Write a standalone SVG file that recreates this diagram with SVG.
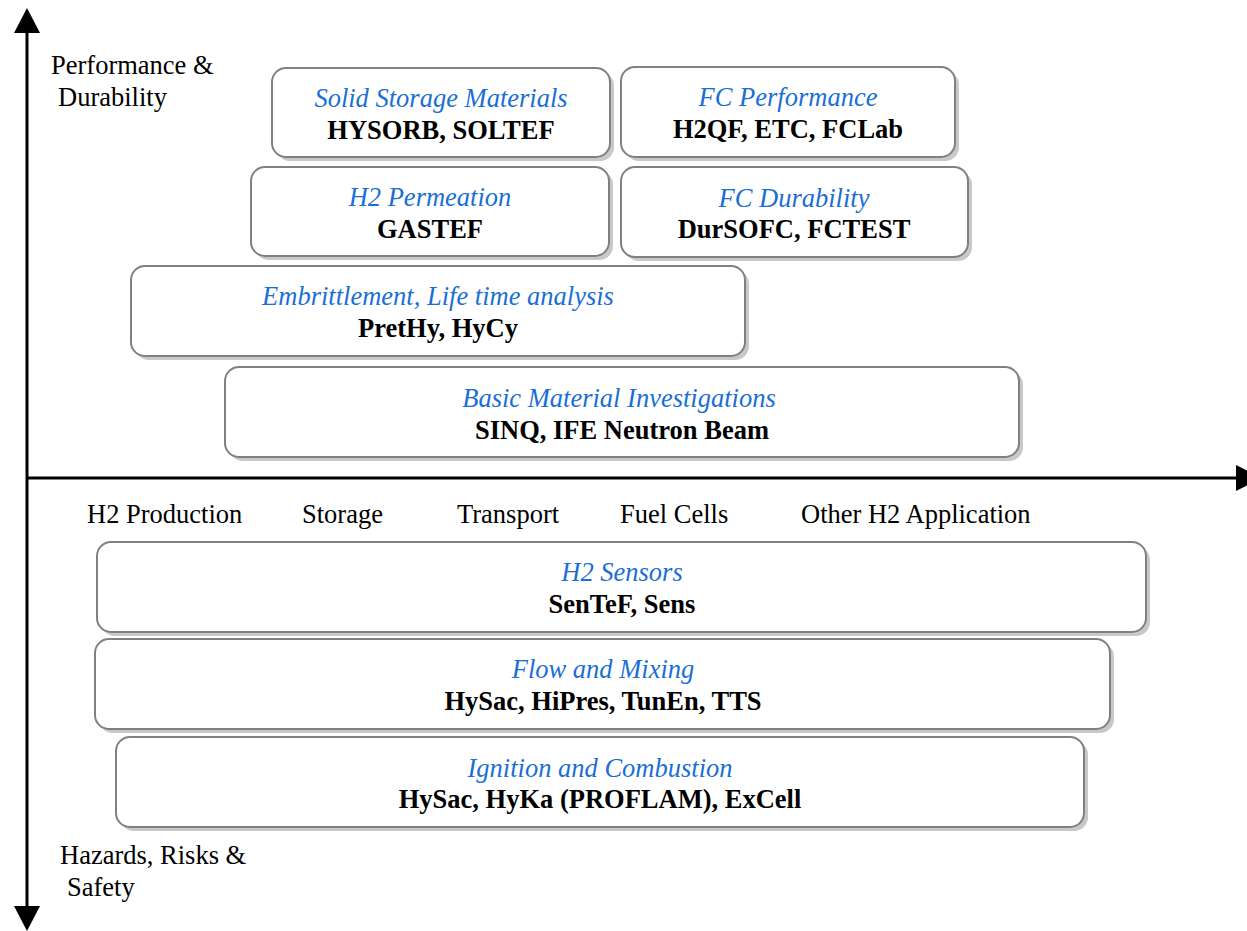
<svg xmlns="http://www.w3.org/2000/svg" width="1247" height="931" viewBox="0 0 1247 931">
<style>
.sh{fill:#c8c8c8}
.bx{fill:#fff;stroke:#808080;stroke-width:2}
.t{font-family:"Liberation Serif",serif;font-size:26.5px;font-style:italic;fill:#1a6fd4;text-anchor:middle}
.b{font-family:"Liberation Serif",serif;font-size:26.5px;font-weight:bold;fill:#000;text-anchor:middle}
.l{font-family:"Liberation Serif",serif;font-size:26.5px;fill:#000}
.ax{stroke:#000;stroke-width:3;fill:none}
</style>
<g id="axes">
<line class="ax" x1="27" y1="28" x2="27" y2="912"/>
<polygon points="27,8 14,33 40,33"/>
<polygon points="27,931 14,906 40,906"/>
<line class="ax" x1="27" y1="478" x2="1240" y2="478"/>
<polygon points="1236,465 1236,491 1262,478"/>
</g>
<g id="labels">
<text class="l" x="51" y="74">Performance &amp;</text>
<text class="l" x="58" y="106">Durability</text>
<text class="l" x="87" y="523">H2 Production</text>
<text class="l" x="302" y="523">Storage</text>
<text class="l" x="457" y="523">Transport</text>
<text class="l" x="620" y="523">Fuel Cells</text>
<text class="l" x="801" y="523">Other H2 Application</text>
<text class="l" x="60" y="864">Hazards, Risks &amp;</text>
<text class="l" x="67" y="896">Safety</text>
</g>
<g id="n1"><rect class="sh" x="276" y="72" width="338" height="89" rx="14"/><rect class="bx" x="272" y="68" width="338" height="89" rx="14"/><text class="t" x="441" y="107">Solid Storage Materials</text><text class="b" x="441" y="139">HYSORB, SOLTEF</text></g>
<g id="n2"><rect class="sh" x="625" y="71" width="334" height="90" rx="14"/><rect class="bx" x="621" y="67" width="334" height="90" rx="14"/><text class="t" x="788" y="106">FC Performance</text><text class="b" x="788" y="138">H2QF, ETC, FCLab</text></g>
<g id="n3"><rect class="sh" x="255" y="171" width="358" height="89" rx="14"/><rect class="bx" x="251" y="167" width="358" height="89" rx="14"/><text class="t" x="430" y="206">H2 Permeation</text><text class="b" x="430" y="238">GASTEF</text></g>
<g id="n4"><rect class="sh" x="625" y="171" width="347" height="90" rx="14"/><rect class="bx" x="621" y="167" width="347" height="90" rx="14"/><text class="t" x="794" y="207">FC Durability</text><text class="b" x="794" y="238">DurSOFC, FCTEST</text></g>
<g id="n5"><rect class="sh" x="135" y="270" width="614" height="90" rx="14"/><rect class="bx" x="131" y="266" width="614" height="90" rx="14"/><text class="t" x="438" y="305">Embrittlement, Life time analysis</text><text class="b" x="438" y="337">PretHy, HyCy</text></g>
<g id="n6"><rect class="sh" x="229" y="371" width="794" height="90" rx="14"/><rect class="bx" x="225" y="367" width="794" height="90" rx="14"/><text class="t" x="619" y="407">Basic Material Investigations</text><text class="b" x="622" y="439">SINQ, IFE Neutron Beam</text></g>
<g id="n7"><rect class="sh" x="101" y="546" width="1049" height="90" rx="14"/><rect class="bx" x="97" y="542" width="1049" height="90" rx="14"/><text class="t" x="622" y="581">H2 Sensors</text><text class="b" x="622" y="613">SenTeF, Sens</text></g>
<g id="n8"><rect class="sh" x="99" y="643" width="1015" height="90" rx="14"/><rect class="bx" x="95" y="639" width="1015" height="90" rx="14"/><text class="t" x="603" y="678">Flow and Mixing</text><text class="b" x="603" y="710">HySac, HiPres, TunEn, TTS</text></g>
<g id="n9"><rect class="sh" x="120" y="741" width="968" height="90" rx="14"/><rect class="bx" x="116" y="737" width="968" height="90" rx="14"/><text class="t" x="600" y="777">Ignition and Combustion</text><text class="b" x="600" y="808">HySac, HyKa (PROFLAM), ExCell</text></g>
</svg>
